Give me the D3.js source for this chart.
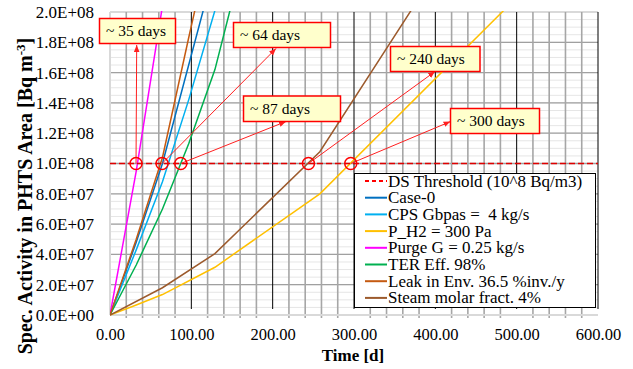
<!DOCTYPE html>
<meta charset="utf-8">
<style>
    body { margin: 0; background: #fff; }
    text { font-family: "Liberation Serif", "Times New Roman", serif; white-space: pre; }
</style>
<script src="https://d3js.org/d3.v7.min.js"></script>
<div id="chart"></div>
<script>
    // ---- data ----
    var xTicks = [0, 100, 200, 300, 400, 500, 600];
    var yTicks = [0, 2e7, 4e7, 6e7, 8e7, 1e8, 1.2e8, 1.4e8, 1.6e8, 1.8e8, 2e8];
    var threshold = 1e8;

    var case0Days = [0, 32.25, 64.5, 96.75, 129];
    var case0Vals = [0, 4.8e7, 1.0e8, 1.65e8, 2.3e8];

    var cpsDays = [0, 32.25, 64.5, 96.75, 129];
    var cpsVals = [0, 4.3e7, 8.8e7, 1.42e8, 2.01e8];

    var ph2Days = [0, 32.25, 64.5, 129, 258, 484];
    var ph2Vals = [0, 6.6e6, 1.35e7, 3.15e7, 8.0e7, 2.01e8];

    var purgeDays = [0, 32.25, 64.5];
    var purgeVals = [0, 9.5e7, 2.04e8];

    var terDays = [0, 32.25, 64.5, 96.75, 129, 161.25];
    var terVals = [0, 3.3e7, 7.0e7, 1.13e8, 1.62e8, 2.3e8];

    var leakDays = [0, 32.25, 64.5, 96.75, 129];
    var leakVals = [0, 5.0e7, 1.04e8, 1.83e8, 2.6e8];

    var steamDays = [0, 64.5, 129, 258, 387];
    var steamVals = [0, 1.8e7, 4.05e7, 1.078e8, 2.15e8];

    var legendNames = ["DS Threshold (10^8 Bq/m3)", "Case-0", "CPS Gbpas =  4 kg/s", "P_H2 = 300 Pa",
        "Purge G = 0.25 kg/s", "TER Eff. 98%", "Leak in Env. 36.5 %inv./y", "Steam molar fract. 4%"];

    var crossDays = [32, 64, 87, 244, 296];
    var crossLabels = ["~ 35 days", "~ 64 days", "~ 87 days", "~ 240 days", "~ 300 days"];

    // ---- layout ----
    var W = 633, H = 369;
    var margin = {top: 12, right: 35, bottom: 54, left: 110},
        width = W - margin.left - margin.right,
        height = H - margin.top - margin.bottom;

    var series = [
        {name: legendNames[1], days: case0Days, vals: case0Vals, color: "#0070C0"},
        {name: legendNames[2], days: cpsDays, vals: cpsVals, color: "#00B0F0"},
        {name: legendNames[3], days: ph2Days, vals: ph2Vals, color: "#FFC000"},
        {name: legendNames[4], days: purgeDays, vals: purgeVals, color: "#FF00FF"},
        {name: legendNames[5], days: terDays, vals: terVals, color: "#00B050"},
        {name: legendNames[6], days: leakDays, vals: leakVals, color: "#C55A11"},
        {name: legendNames[7], days: steamDays, vals: steamVals, color: "#9C5A2C"}
    ];

    var svg = d3.select("#chart").append("svg")
        .attr("width", W)
        .attr("height", H);
    var g = svg.append("g")
        .attr("transform", "translate(" + margin.left + "," + margin.top + ")");

    var x = d3.scaleLinear().domain([0, 600]).range([0, width]);
    var y = d3.scaleLinear().domain([0, 2e8]).range([height, 0]);

    // minor horizontal grid
    g.append("g").selectAll("line")
        .data(d3.range(0, 2e8 + 1, 5e6))
        .enter().append("line")
        .attr("x1", 0).attr("x2", width)
        .attr("y1", function(d) { return y(d); })
        .attr("y2", function(d) { return y(d); })
        .style("stroke", "#e6e6e6")
        .style("stroke-width", 1);

    // major horizontal grid
    g.append("g").selectAll("line")
        .data(yTicks.slice(1))
        .enter().append("line")
        .attr("x1", 0).attr("x2", width)
        .attr("y1", function(d) { return y(d); })
        .attr("y2", function(d) { return y(d); })
        .style("stroke", function(d) { return d === 2e8 ? "#d0d0d0" : "#a0a0a0"; })
        .style("stroke-width", 1.3);

    // vertical grid: grey every 20 d, black every 100 d
    var vx = d3.range(20, 601, 20);
    g.append("g").selectAll("line")
        .data(vx.filter(function(d) { return d % 100 !== 0; }))
        .enter().append("line")
        .attr("x1", function(d) { return x(d); })
        .attr("x2", function(d) { return x(d); })
        .attr("y1", 0).attr("y2", height + 3)
        .style("stroke", "#a6a6a6")
        .style("stroke-width", 1.6);
    g.append("g").selectAll("line")
        .data(xTicks.slice(1))
        .enter().append("line")
        .attr("x1", function(d) { return x(d); })
        .attr("x2", function(d) { return x(d); })
        .attr("y1", 0).attr("y2", height - 6)
        .style("stroke", "#000")
        .style("stroke-width", 1);

    // axis lines
    g.append("line").attr("x1", 0).attr("x2", 0).attr("y1", 0).attr("y2", height)
        .style("stroke", "#d9d9d9").style("stroke-width", 2);
    g.append("line").attr("x1", 0).attr("x2", width).attr("y1", height).attr("y2", height)
        .style("stroke", "#d9d9d9").style("stroke-width", 2);

    // tick labels
    function sci(v) {
        if (v === 0) return "0.0E+00";
        var e = Math.floor(Math.log10(v) + 1e-9);
        var m = v / Math.pow(10, e);
        return m.toFixed(1) + "E+" + (e < 10 ? "0" : "") + e;
    }
    var yAxis = g.append("g")
        .call(d3.axisLeft(y).tickValues(yTicks).tickFormat(sci).tickSize(0).tickPadding(16));
    yAxis.select(".domain").remove();
    yAxis.selectAll("text").style("font-size", "17px").style("fill", "#000")
        .style("font-family", "Liberation Serif");

    var xAxis = g.append("g")
        .attr("transform", "translate(0," + height + ")")
        .call(d3.axisBottom(x).tickValues(xTicks).tickFormat(d3.format(".2f")).tickSize(0).tickPadding(13));
    xAxis.select(".domain").remove();
    xAxis.selectAll("text").style("font-size", "16.5px").style("fill", "#000")
        .style("font-family", "Liberation Serif");

    // axis titles
    svg.append("text")
        .attr("x", margin.left + x(300) - 1)
        .attr("y", 361)
        .attr("text-anchor", "middle")
        .style("font-size", "17px")
        .style("font-weight", "bold")
        .text("Time [d]");

    var yt = svg.append("text")
        .attr("transform", "translate(32," + 196 + ") rotate(-90)")
        .attr("text-anchor", "middle")
        .style("font-size", "20px")
        .style("font-weight", "bold");
    yt.append("tspan").text("Spec. Activity in PHTS Area [Bq m");
    yt.append("tspan").attr("dy", -7).style("font-size", "13px").text("-3");
    yt.append("tspan").attr("dy", 7).text("]");

    // clip
    g.append("defs").append("clipPath").attr("id", "clip")
        .append("rect").attr("width", width).attr("height", height + 2).attr("y", -1);

    var line = d3.line()
        .x(function(d) { return x(d[0]); })
        .y(function(d) { return y(d[1]); });

    var curves = g.append("g").attr("clip-path", "url(#clip)");
    curves.selectAll("path")
        .data(series)
        .enter().append("path")
        .attr("d", function(s) { return line(d3.zip(s.days, s.vals)); })
        .style("fill", "none")
        .style("stroke", function(s) { return s.color; })
        .style("stroke-width", 1.5);

    // threshold
    g.append("line")
        .attr("x1", 0).attr("x2", width)
        .attr("y1", y(threshold)).attr("y2", y(threshold))
        .style("stroke", "#e00000")
        .style("stroke-width", 1.5)
        .style("stroke-dasharray", "6,3");

    // legend
    var lg = svg.append("g");
    lg.append("rect")
        .attr("x", 354.5).attr("y", 173.5)
        .attr("width", 241).attr("height", 134)
        .style("fill", "#fff").style("stroke", "#000").style("stroke-width", 1);
    var rowH = 16.7;
    legendNames.forEach(function(n, i) {
        var cy = 181 + i * rowH;
        var col = i === 0 ? "#ff0000" : series[i - 1].color;
        lg.append("line")
            .attr("x1", 365).attr("x2", 387)
            .attr("y1", cy).attr("y2", cy)
            .style("stroke", col)
            .style("stroke-width", 2)
            .style("stroke-dasharray", i === 0 ? "4,3" : null);
        lg.append("text")
            .attr("x", 388).attr("y", cy + 5.5)
            .style("font-size", "17px")
            .text(n);
    });

    // annotations: circles on the threshold, arrows and boxes
    var boxes = [
        {x: 99.5, y: 18.5, w: 76, h: 25, tip: [136.7, 45]},
        {x: 233.5, y: 22.5, w: 97, h: 25, tip: [276, 48.5]},
        {x: 243.5, y: 96, w: 97, h: 25.5, tip: [286, 121.5]},
        {x: 390.5, y: 46.5, w: 89.5, h: 25, tip: [435, 71.5]},
        {x: 450.5, y: 108.5, w: 89, h: 25, tip: [450.5, 121.5]}
    ];

    svg.append("defs").append("marker")
        .attr("id", "arr")
        .attr("viewBox", "0 0 10 10")
        .attr("refX", 10).attr("refY", 5)
        .attr("markerWidth", 7).attr("markerHeight", 7)
        .attr("orient", "auto")
        .append("path").attr("d", "M0,1 L10,5 L0,9 Z").style("fill", "#ff2020");

    crossDays.forEach(function(d, i) {
        var cx = margin.left + x(d), cy = margin.top + y(threshold);
        var b = boxes[i];
        svg.append("line")
            .attr("x1", cx).attr("y1", cy)
            .attr("x2", b.tip[0]).attr("y2", b.tip[1])
            .style("stroke", "#ff2020")
            .style("stroke-width", 1)
            .attr("marker-end", "url(#arr)");
        svg.append("circle")
            .attr("cx", cx).attr("cy", cy).attr("r", 6)
            .style("fill", "none")
            .style("stroke", "#ff0000")
            .style("stroke-width", 1.5);
        svg.append("rect")
            .attr("x", b.x).attr("y", b.y)
            .attr("width", b.w).attr("height", b.h)
            .style("fill", "#ffffcc")
            .style("stroke", "#ff0000")
            .style("stroke-width", 1.5);
        svg.append("text")
            .attr("x", b.x + 6.5).attr("y", b.y + 17.5)
            .style("font-size", "15.5px")
            .text(crossLabels[i]);
    });
</script>
